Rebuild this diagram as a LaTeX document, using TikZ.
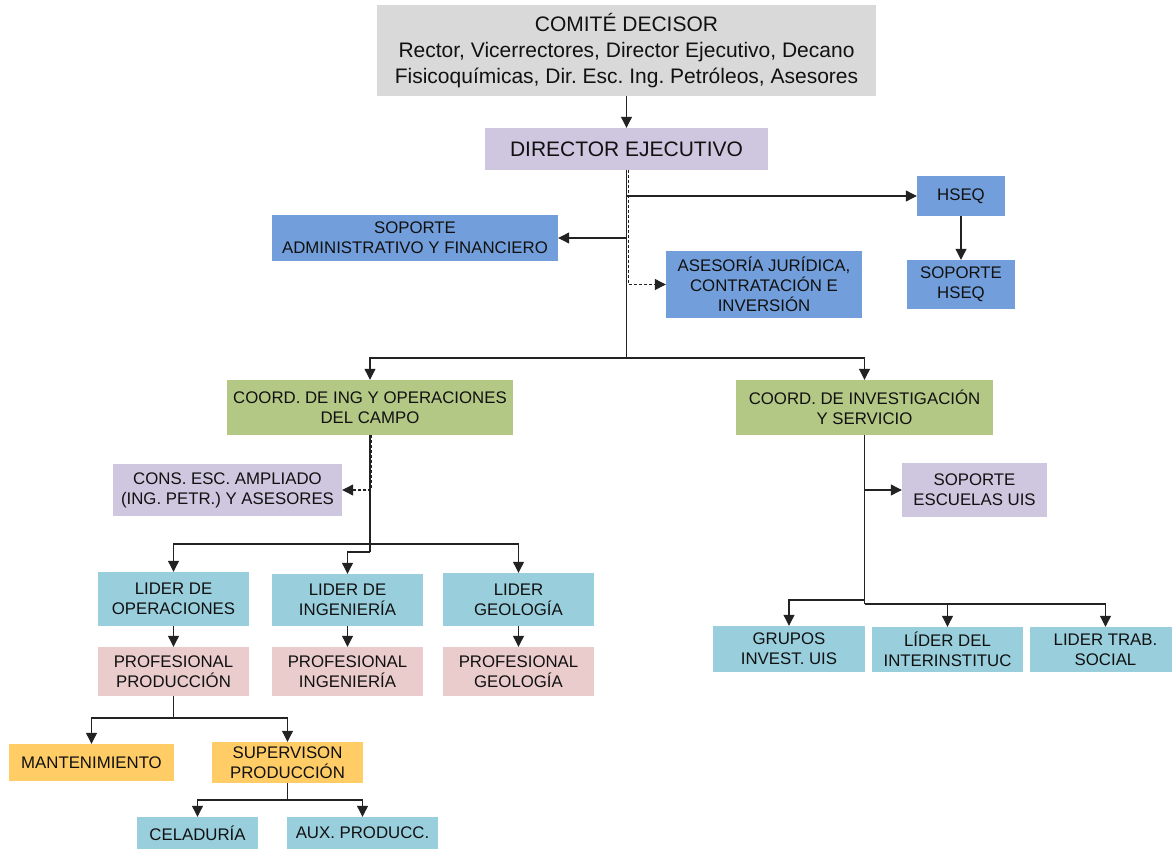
\documentclass[tikz,border=0pt]{standalone}
\usepackage{fontspec}
\setmainfont{Liberation Sans}
\usetikzlibrary{arrows.meta}
\frenchspacing

\definecolor{cgray}{HTML}{D9D9D9}
\definecolor{clav}{HTML}{CFC6DF}
\definecolor{cblue}{HTML}{729FDB}
\definecolor{cgreen}{HTML}{B4C886}
\definecolor{ccyan}{HTML}{99CFDD}
\definecolor{cpink}{HTML}{EBCCCC}
\definecolor{cyell}{HTML}{FFCC66}
\definecolor{cline}{HTML}{222222}
\definecolor{ctext}{HTML}{111111}

\tikzset{
  box/.style={draw=none, inner sep=0pt, align=center, text=ctext,
    font=\fontsize{16.8}{20}\selectfont},
  bigbox/.style={box, font=\fontsize{21}{26}\selectfont},
  conn/.style={draw=cline, line width=1.1pt},
  arr/.style={conn, -{Triangle[length=11pt,width=11pt]}},
  dasharr/.style={arr, dash pattern=on 3pt off 2pt},
}

\begin{document}
\begin{tikzpicture}[x=1pt, y=-1pt]
\useasboundingbox (0,0) rectangle (1172,850);

% top of the hierarchy
\node[bigbox, fill=cgray, minimum width=499pt, minimum height=91pt] (comite) at (626.5,50.5)
  {COMITÉ DECISOR\\Rector, Vicerrectores, Director Ejecutivo, Decano\\Fisicoquímicas, Dir. Esc. Ing. Petróleos, Asesores};
\node[bigbox, fill=clav, minimum width=283pt, minimum height=42pt] (director) at (626.5,149) {DIRECTOR EJECUTIVO};

% staff units of the director
\node[box, fill=cblue, minimum width=286pt, minimum height=46pt] (admin) at (415,238) {SOPORTE\\ADMINISTRATIVO Y FINANCIERO};
\node[box, fill=cblue, minimum width=88pt, minimum height=40pt] (hseq) at (961,196) {HSEQ};
\node[box, fill=cblue, minimum width=196pt, minimum height=67pt] (asesoria) at (764,284.5) {ASESORÍA JURÍDICA,\\CONTRATACIÓN E\\INVERSIÓN};
\node[box, fill=cblue, minimum width=108pt, minimum height=49pt] (sophseq) at (961,284.5) {SOPORTE\\HSEQ};

% coordinations
\node[box, fill=cgreen, minimum width=286pt, minimum height=55pt] (coordL) at (370,407.5) {COORD. DE ING Y OPERACIONES\\DEL CAMPO};
\node[box, fill=cgreen, minimum width=257pt, minimum height=55pt] (coordR) at (864.5,407.5) {COORD. DE INVESTIGACIÓN\\Y SERVICIO};
\node[box, fill=clav, minimum width=229pt, minimum height=52pt] (cons) at (227.5,490) {CONS. ESC. AMPLIADO\\(ING. PETR.) Y ASESORES};
\node[box, fill=clav, minimum width=145pt, minimum height=54pt] (escuelas) at (974.5,490) {SOPORTE\\ESCUELAS UIS};

% leaders of the field coordination
\node[box, fill=ccyan, minimum width=151pt, minimum height=54pt] (liderOp) at (173.5,599) {LIDER DE\\OPERACIONES};
\node[box, fill=ccyan, minimum width=151pt, minimum height=52pt] (liderIng) at (347.5,600) {LIDER DE\\INGENIERÍA};
\node[box, fill=ccyan, minimum width=151pt, minimum height=53pt] (liderGeo) at (518.5,599.5) {LIDER\\GEOLOGÍA};
\node[box, fill=cpink, minimum width=151pt, minimum height=49pt] (profProd) at (173.5,671.5) {PROFESIONAL\\PRODUCCIÓN};
\node[box, fill=cpink, minimum width=151pt, minimum height=49pt] (profIng) at (347.5,671.5) {PROFESIONAL\\INGENIERÍA};
\node[box, fill=cpink, minimum width=151pt, minimum height=49pt] (profGeo) at (518.5,671.5) {PROFESIONAL\\GEOLOGÍA};

% production staff
\node[box, fill=cyell, minimum width=165pt, minimum height=37pt] (mant) at (91.5,762.5) {MANTENIMIENTO};
\node[box, fill=cyell, minimum width=151pt, minimum height=41pt] (superv) at (287.5,762.5) {SUPERVISON\\PRODUCCIÓN};
\node[box, fill=ccyan, minimum width=121pt, minimum height=32pt] (celad) at (197.5,833) {CELADURÍA};
\node[box, fill=ccyan, minimum width=151pt, minimum height=32pt] (aux) at (362.5,833) {AUX. PRODUCC.};

% research coordination units
\node[box, fill=ccyan, minimum width=152pt, minimum height=46pt] (grupos) at (789,649) {GRUPOS\\INVEST. UIS};
\node[box, fill=ccyan, minimum width=151pt, minimum height=45pt] (liderDel) at (947.5,649.5) {LÍDER DEL\\INTERINSTITUC};
\node[box, fill=ccyan, minimum width=151pt, minimum height=45pt] (liderTrab) at (1105.5,649.5) {LIDER TRAB.\\SOCIAL};

% junction points
\coordinate (dTrunk) at (626.5,358);
\coordinate (lJoin) at (370,544);
\coordinate (lJoinB) at (370,552);
\coordinate (rJoin) at (864.5,600);
\coordinate (rJoinB) at (864.5,604);
\coordinate (pJoin) at (173.5,718);
\coordinate (sJoin) at (287.5,800);

% connectors from the decision committee and the director
\draw[arr] (comite.south) -- (director.north);
\draw[conn] (director.south) -- (dTrunk);
\draw[arr] (director.south |- hseq.west) -- (hseq.west);
\draw[arr] (director.south |- admin.east) -- (admin.east);
\draw[dasharr] ([xshift=1.6pt]director.south) |- (asesoria.west);
\draw[arr] (hseq.south) -- (sophseq.north);
\draw[arr] (dTrunk) -| (coordL.north);
\draw[arr] (dTrunk) -| (coordR.north);

% field coordination
\draw[conn] (coordL.south) -- (lJoinB);
\draw[dasharr] ([xshift=1.6pt]coordL.south) |- (cons.east);
\draw[arr] (lJoin) -| (liderOp.north);
\draw[arr] (lJoin) -| (liderGeo.north);
\draw[arr] (lJoinB) -| (liderIng.north);
\draw[arr] (liderOp.south) -- (profProd.north);
\draw[arr] (liderIng.south) -- (profIng.north);
\draw[arr] (liderGeo.south) -- (profGeo.north);
\draw[conn] (profProd.south) -- (pJoin);
\draw[arr] (pJoin) -| (mant.north);
\draw[arr] (pJoin) -| (superv.north);
\draw[conn] (superv.south) -- (sJoin);
\draw[arr] (sJoin) -| (celad.north);
\draw[arr] (sJoin) -| (aux.north);

% research coordination
\draw[conn] (coordR.south) -- (rJoinB);
\draw[arr] (coordR.south |- escuelas.west) -- (escuelas.west);
\draw[arr] (rJoin) -| (grupos.north);
\draw[arr] (rJoinB) -| (liderDel.north);
\draw[arr] (rJoinB) -| (liderTrab.north);
\end{tikzpicture}
\end{document}
